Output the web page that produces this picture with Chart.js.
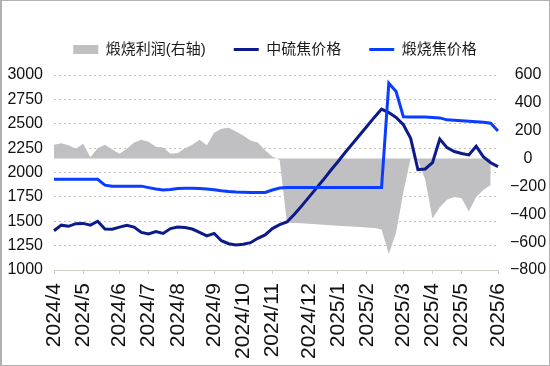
<!DOCTYPE html>
<html>
<head>
<meta charset="utf-8">
<script src="https://cdn.jsdelivr.net/npm/chart.js@4"></script>
<style>
  html, body { margin: 0; padding: 0; background: #fff; }
  #wrap { position: relative; width: 550px; height: 366px; }
  #frame { position: absolute; left: 0; top: 0; width: 550px; height: 366px; box-sizing: border-box;
           border: 1px solid #b0b0b0; border-left-width: 2px; pointer-events: none; }
</style>
</head>
<body>
<div id="wrap">
  <canvas id="chart" width="550" height="366"></canvas>
  <div id="frame"></div>
</div>
<script>
// month tick labels and the week index where each month starts
const monthLabels = ['2024/4', '2024/5', '2024/6', '2024/7', '2024/8', '2024/9', '2024/10', '2024/11',
  '2024/12', '2025/1', '2025/2', '2025/3', '2025/4', '2025/5', '2025/6'];
const monthStart = [0, 4, 9, 13, 17, 22, 26, 30, 35, 39, 43, 48, 52, 56, 61];

// 中硫焦价格 (left axis), weekly
const midSulfur = [1403, 1460, 1448, 1475, 1478, 1460, 1500, 1420, 1418, 1440,
  1458, 1440, 1385, 1370, 1395, 1375, 1425, 1440, 1435, 1420,
  1385, 1350, 1375, 1300, 1270, 1257, 1265, 1280, 1325, 1360,
  1425, 1465, 1492, 1570, 1655, 1745, 1835, 1925, 2020, 2110,
  2205, 2295, 2385, 2475, 2565, 2650, 2615, 2565, 2490, 2350,
  2030, 2036, 2100, 2344, 2255, 2215, 2195, 2180, 2270, 2160,
  2100, 2060];

// 煅烧焦价格 (left axis), weekly
const calcined = [1930, 1930, 1930, 1930, 1930, 1930, 1930, 1870, 1860, 1860,
  1860, 1860, 1860, 1845, 1830, 1820, 1825, 1835, 1838, 1838,
  1835, 1830, 1822, 1812, 1805, 1800, 1798, 1796, 1796, 1796,
  1820, 1840, 1845, 1845, 1845, 1845, 1845, 1845, 1845, 1845,
  1845, 1845, 1845, 1845, 1845, 1845, 2915, 2830, 2572, 2570,
  2570, 2568, 2565, 2560, 2540, 2535, 2530, 2525, 2520, 2515,
  2505, 2425];

// 煅烧利润 (right axis), weekly
const profit = [100, 110, 95, 70, 106, 10, 75, 100, 65, 35,
  70, 115, 135, 120, 85, 80, 35, 40, 75, 100,
  135, 95, 185, 215, 222, 195, 165, 130, 115, 60,
  15, -10, -460, -462, -465, -468, -472, -475, -478, -482,
  -485, -488, -492, -495, -498, -510, -685, -530, -240, 0,
  -10, -150, -430, -350, -296, -275, -285, -380, -275, -225,
  -190, null];

const labels = midSulfur.map(() => '');
monthStart.forEach((idx, k) => { labels[idx] = monthLabels[k]; });

const axisColor = '#d3cfc4';
const fontFamily = '"Liberation Sans", Arial, "Noto Sans CJK SC", sans-serif';

// leave a bit more room between the legend and the plot
const legendGap = {
  id: 'legendGap',
  beforeInit(chart) {
    const fit = chart.legend.fit;
    chart.legend.fit = function () {
      fit.bind(chart.legend)();
      this.height += 8;
    };
  }
};

const ctx = document.getElementById('chart').getContext('2d');
new Chart(ctx, {
  type: 'line',
  data: {
    labels: labels,
    datasets: [
      {
        label: '煅烧利润(右轴)',
        data: profit,
        yAxisID: 'y1',
        fill: 'origin',
        backgroundColor: '#c0c0c2',
        borderWidth: 0,
        pointRadius: 0,
        pointStyle: 'rect',
        order: 2,
      },
      {
        label: '中硫焦价格',
        data: midSulfur,
        yAxisID: 'y',
        borderColor: '#0c1a8a',
        backgroundColor: '#0c1a8a',
        borderWidth: 3,
        pointRadius: 0,
        pointStyle: 'line',
        order: 1,
      },
      {
        label: '煅烧焦价格',
        data: calcined,
        yAxisID: 'y',
        borderColor: '#0a3dff',
        backgroundColor: '#0a3dff',
        borderWidth: 3,
        pointRadius: 0,
        pointStyle: 'line',
        order: 0,
      },
    ],
  },
  options: {
    responsive: false,
    animation: false,
    layout: { padding: { left: 4, right: 4, top: 14, bottom: 4 } },
    plugins: {
      legend: {
        position: 'top',
        labels: {
          usePointStyle: true,
          pointStyleWidth: 25,
          boxHeight: 9,
          padding: 28,
          color: '#1a1a1a',
          font: { family: fontFamily, size: 15 },
          sort: (a, b) => a.datasetIndex - b.datasetIndex,
        },
      },
      tooltip: { enabled: false },
    },
    scales: {
      x: {
        grid: {
          drawOnChartArea: false,
          tickLength: 4,
          color: (c) => (labels[c.index] ? axisColor : 'rgba(0,0,0,0)'),
        },
        border: { display: true, color: axisColor, width: 1 },
        ticks: {
          autoSkip: false,
          minRotation: 90,
          maxRotation: 90,
          padding: 9,
          color: '#111',
          font: { family: fontFamily, size: 21 },
          callback: (v, i) => labels[i],
        },
        afterFit: (scale) => { scale.height = 92; },
      },
      y: {
        position: 'left',
        min: 1000,
        max: 3000,
        ticks: {
          stepSize: 250,
          padding: 11,
          color: '#111',
          font: { family: fontFamily, size: 16 },
          callback: (v) => String(v),
        },
        grid: {
          drawTicks: false,
          color: 'rgba(160,152,130,0.6)',
        },
        border: { display: false, dash: [2, 3] },
        afterFit: (scale) => { scale.width = 50; },
      },
      y1: {
        position: 'right',
        min: -800,
        max: 600,
        ticks: {
          stepSize: 200,
          padding: 12,
          crossAlign: 'center',
          color: '#111',
          font: { family: fontFamily, size: 16 },
          callback: (v) => (v < 0 ? '\u2212' + Math.abs(v) : String(v)),
        },
        grid: { drawOnChartArea: false, drawTicks: false },
        border: { display: false },
        afterFit: (scale) => { scale.width = 48; },
      },
    },
  },
  plugins: [legendGap],
});
</script>
</body>
</html>
